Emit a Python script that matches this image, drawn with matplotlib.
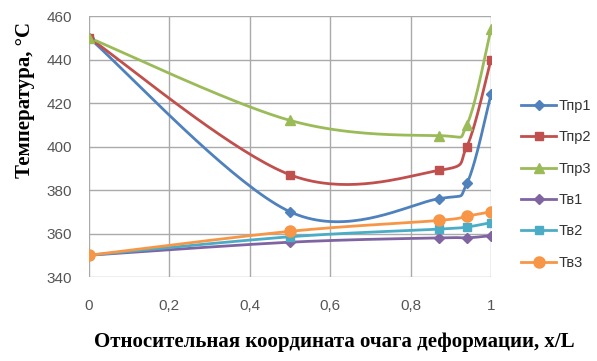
import numpy as np
from matplotlib import pyplot as plt

x = [0, 0.5, 0.87, 0.94, 1]
t_pr1 = [450, 370, 376, 383, 424]
t_pr2 = [450, 387, 389, 400, 440]
t_pr3 = [450, 412, 405, 410, 454]
t_v1 = [350, 356, 358, 358, 359]
t_v2 = [350, 358.5, 362, 363, 365]
t_v3 = [350, 361, 366, 368, 370]

labels = ['Тпр1', 'Тпр2', 'Тпр3', 'Тв1', 'Тв2', 'Тв3']
colors = ['#4F81BD', '#C0504D', '#9BBB59', '#8064A2', '#4BACC6', '#F79646']
markers = ['D', 's', '^', 'D', 's', 'o']
msizes = [5, 6, 7, 5, 6, 8]

# размер области графика в пикселях (для сглаживания как в Excel)
W, H = 402, 261
y0, y1 = 340, 460


def smooth(xs, ys, n=40):
    px = np.array(xs, float) * W
    py = (np.array(ys, float) - y0) / (y1 - y0) * H
    P = np.column_stack([px, py])
    P = np.vstack([P[0], P, P[-1]])
    out = []
    t = np.linspace(0, 1, n)[:, None]
    for i in range(1, len(P) - 2):
        p0, p1, p2, p3 = P[i - 1], P[i], P[i + 1], P[i + 2]
        c1 = p1 + (p2 - p0) / 6
        c2 = p2 - (p3 - p1) / 6
        seg = ((1 - t) ** 3) * p1 + 3 * ((1 - t) ** 2) * t * c1 + 3 * (1 - t) * t ** 2 * c2 + t ** 3 * p2
        out.append(seg)
    out = np.vstack(out)
    return out[:, 0] / W, out[:, 1] / H * (y1 - y0) + y0


fig = plt.figure(figsize=(5.97, 3.61), dpi=100)
ax = fig.add_axes([89 / 597, 1 - 277 / 361, 402 / 597, 261 / 361])

series = [t_pr1, t_pr2, t_pr3, t_v1, t_v2, t_v3]
handles = []
for ys, lab, c, m, ms in zip(series, labels, colors, markers, msizes):
    sx, sy = smooth(x, ys)
    ax.plot(sx, sy, color=c, lw=2.0, zorder=3)
    ax.plot(x, ys, ls='none', marker=m, color=c, ms=ms, zorder=4)
    h, = ax.plot([], [], color=c, lw=2.0, marker=m, ms=ms, label=lab)
    handles.append(h)

ax.set_xlim(0, 1)
ax.set_ylim(340, 460)
ax.set_xticks([0, 0.2, 0.4, 0.6, 0.8, 1])
ax.set_xticklabels(['0', '0,2', '0,4', '0,6', '0,8', '1'])
ax.set_yticks(range(340, 461, 20))
ax.grid(True, color='#AAAAAA', lw=1)
ax.set_axisbelow(True)
for s in ax.spines.values():
    s.set_visible(False)
ax.tick_params(length=0, labelsize=11, labelcolor='#555555')
ax.tick_params(axis='y', pad=12)
ax.tick_params(axis='x', pad=16)
for lbl in ax.get_xticklabels() + ax.get_yticklabels():
    lbl.set_fontfamily('Liberation Sans')

fig.text(25 / 597, 1 - 100 / 361, 'Температура, °С', rotation=90, ha='center', va='center',
         fontfamily='Liberation Serif', fontweight='bold', fontsize=15)
fig.text(334 / 597, 1 - 342 / 361, 'Относительная координата очага деформации, x/L',
         ha='center', va='center', fontfamily='Liberation Serif', fontweight='bold', fontsize=15)

leg = fig.legend(handles=handles, loc='upper left', bbox_to_anchor=(521 / 597, 1 - 99 / 361),
                 frameon=False, borderpad=0, borderaxespad=0, handlelength=2.4,
                 labelspacing=1.19, handletextpad=0.2,
                 prop={'family': 'Liberation Sans', 'size': 10.5})
for t in leg.get_texts():
    t.set_color('#333333')

fig.savefig('out.png', dpi=100)
